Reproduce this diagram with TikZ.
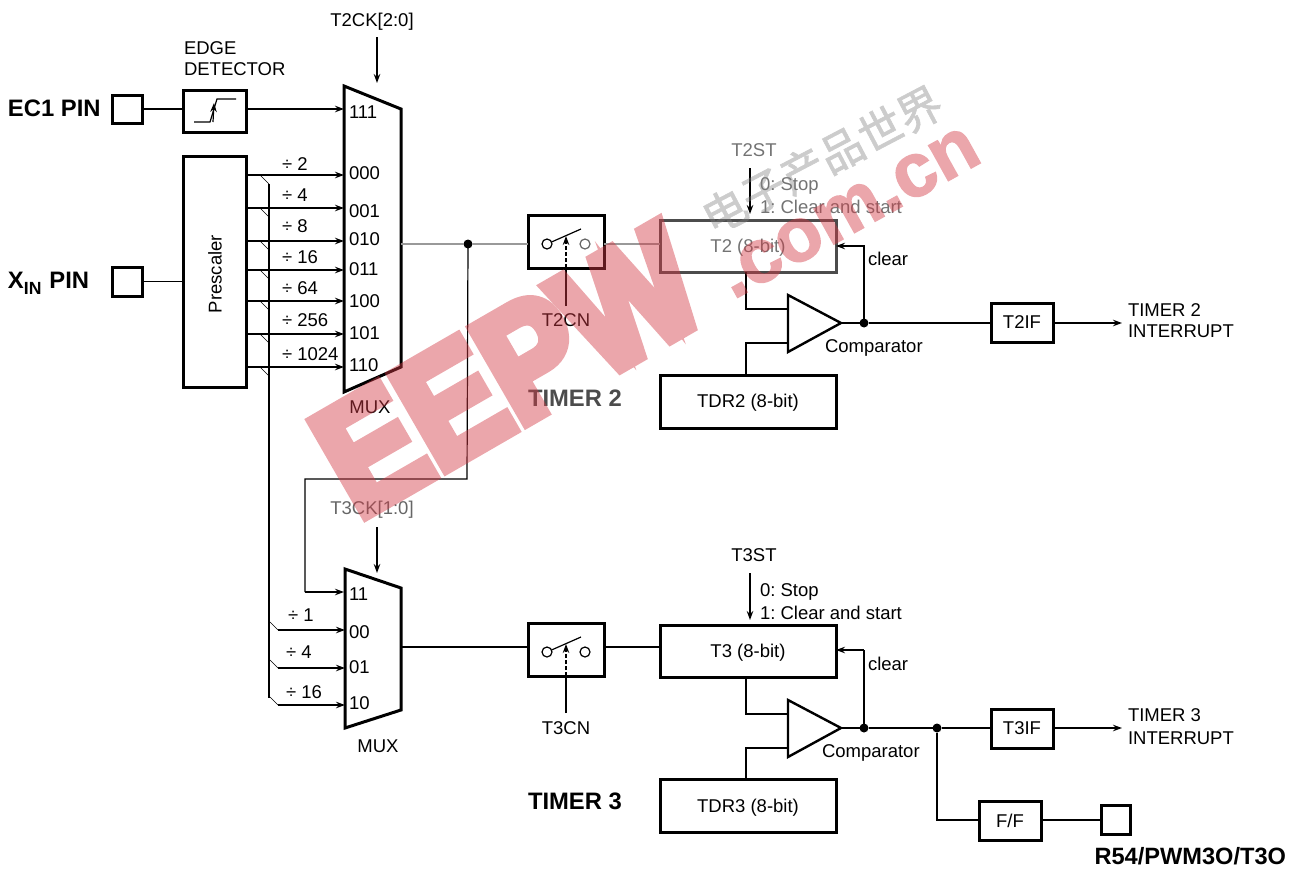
\documentclass[tikz,border=0pt]{standalone}
\usepackage{fontspec}
\setmainfont{Liberation Sans}
\newfontfamily\cjkwm[FakeBold=1.5]{Noto Sans CJK SC}
\newfontfamily\wmfont[FakeBold=7,FakeStretch=.88]{Liberation Sans Bold}
\newfontfamily\wmfontb[FakeBold=2]{Liberation Sans Bold}
\usetikzlibrary{arrows.meta}
\definecolor{wmpink}{RGB}{210,57,68}
\tikzset{
  thin line/.style={line width=1.2pt},
  thick line/.style={line width=3pt},
  arr/.style={thin line,-{Stealth[length=9pt,width=6.5pt]}},
  box/.style={draw,thick line,inner sep=0pt,outer sep=0pt,minimum width=#1},
  txt/.style={inner sep=0pt,outer sep=0pt,font=\fontsize{18.5}{22}\selectfont\frenchspacing},
  ltxt/.style={txt,anchor=west},
  btxt/.style={inner sep=0pt,outer sep=0pt,anchor=west,font=\fontsize{23.8}{26}\selectfont\bfseries},
  dot/.style={circle,fill=black,inner sep=0pt,minimum size=9pt,outer sep=0pt},
  ring/.style={circle,draw,thin line,fill=white,inner sep=0pt,minimum size=10pt,outer sep=0pt},
  soft/.style={text=black!55},
}
\begin{document}
\begin{tikzpicture}[x=1pt,y=-1pt]
\useasboundingbox (0,0) rectangle (1302,870);

% pins and edge detector
\node[box=30pt,minimum height=28pt] (ecpin) at (127,109) {};
\node[box=30pt,minimum height=29pt] (xinpin) at (127,281.5) {};
\node[btxt] (eclabel) at (8,108) {EC1 PIN};
\node[btxt,anchor=base west] (xinlabel) at (8,288) {X\raisebox{-6pt}{\fontsize{17.6}{18}\selectfont\bfseries IN}\hspace{8pt}PIN};
\node[box=63pt,minimum height=42pt] (edge) at (214.5,111) {};
\node[ltxt] (edgea) at (184,48) {EDGE};
\node[ltxt] (edgeb) at (184,69) {DETECTOR};
\coordinate (sa) at (194,122); \coordinate (sb) at (210,122);
\coordinate (sc) at (217,99); \coordinate (sd) at (236,99);
\draw[thin line] (sa) -- (sb) -- (sc) -- (sd);
\coordinate (sup) at (214,103);
\draw[arr] (sb) ++(3,0) -- (sup);
\node[box=63pt,minimum height=231pt] (pre) at (214.5,271.5) {};
\node[txt,rotate=90] (prelabel) at (215,274) {Prescaler};

% MUX 1
\coordinate (ma) at (344,86); \coordinate (mb) at (401,109);
\coordinate (mc) at (401,367); \coordinate (md) at (344,392);
\draw[thick line,line join=miter] (ma) -- (mb) -- (mc) -- (md) -- cycle;
\node[txt] (t2ck) at (372,22) {T2CK[2:0]};
\coordinate (t2cks) at (377,37); \coordinate (t2cke) at (377,83);
\draw[arr] (t2cks) -- (t2cke);
\coordinate (m111) at (344,109);
\draw[thin line] (ecpin.east |- m111) -- (edge.west |- m111);
\draw[arr] (edge.east |- m111) -- (m111);
\draw[thin line] (xinpin) -- (pre.west |- xinpin);
\node[ltxt] (l111) at (349,112) {111};
\foreach \n/\y/\ly/\d/\dy in {000/175/173/2/164,001/208/211/4/195,010/241/239/8/226,011/270/269/16/257,100/301/301/64/288,101/334/333/256/320,110/367/365/1024/354}{
  \coordinate (m\n) at (344,\y);
  \draw[arr] (pre.east |- m\n) -- (m\n);
  \coordinate (ta\n) at (260,\y);
  \coordinate (tb\n) at (269,\y+9);
  \draw[line width=.6pt] (ta\n) -- (tb\n);
  \node[ltxt] (l\n) at (349,\ly) {\n};
  \node[ltxt] (d\n) at (282,\dy) {÷ \d};
}
\node[txt] (mux1) at (370,407) {MUX};
% prescaler bus
\coordinate (busa) at (269,184); \coordinate (busb) at (269,698);
\draw[line width=1.5pt] (busa) -- (busb);

% Timer 2
\node[dot] (j1) at (468,244) {};
\node[box=76pt,minimum height=53pt] (sw2) at (566,241.5) {};
\node[box=176pt,minimum height=52pt,draw=black!70] (t2) at (748,246) {};
\node[txt,soft] (t2label) at (748,248) {T2 (8-bit)};
\coordinate (mo1) at (401,244);
\draw[thin line,black!40] (mo1) -- (j1);
\draw[thin line,black!40] (j1) -- (sw2.west |- j1);
\draw[thin line,black!40] (sw2.east |- j1) -- (t2.west |- j1);
\node[ring] (r2a) at (547,244) {};
\node[ring,draw=black!60] (r2b) at (585,244) {};
\coordinate (bl2) at (581,229);
\draw[thin line] (r2a) -- (bl2);
\node[txt] (t2cn) at (566,320) {T2CN};
\coordinate (cn2s) at (566,306); \coordinate (cn2m) at (566,268); \coordinate (cn2e) at (566,236);
\draw[thin line] (cn2s) -- (cn2m);
\draw[arr,dash pattern=on 4pt off 2pt] (cn2m) -- (cn2e);
\node[txt,soft] (t2st) at (754,150) {T2ST};
\coordinate (st2s) at (750,168); \coordinate (st2e) at (750,214);
\draw[arr] (st2s) -- (st2e);
\node[ltxt,soft] (t2a) at (760,186) {0: Stop};
\node[ltxt,soft] (t2b) at (760,207) {1: Clear and start};
\coordinate (c2a) at (788,295); \coordinate (c2b) at (788,352); \coordinate (c2c) at (841,323);
\draw[line width=2.4pt,line join=miter] (c2a) -- (c2c) -- (c2b) -- cycle;
\node[dot] (j2) at (864,323) {};
\node[box=62pt,minimum height=39pt] (t2if) at (1022,322.5) {};
\node[txt] (t2iflabel) at (t2if) {T2IF};
\node[box=176pt,minimum height=53pt] (tdr2) at (748,401.5) {};
\node[txt] (tdr2label) at (748,403) {TDR2 (8-bit)};
\node[ltxt] (cmp2) at (825,348) {Comparator};
\node[ltxt] (clr2) at (868,259) {clear};
\node[ltxt] (int2a) at (1128,310) {TIMER 2};
\node[ltxt] (int2b) at (1128,331) {INTERRUPT};
\node[btxt,text=black!70] (tm2) at (528,398) {TIMER 2};
\coordinate (ci2a) at (788,309); \coordinate (ci2b) at (788,343);
\coordinate (cl2a) at (746,309); \coordinate (cl2b) at (746,343);
\draw[thin line] (t2.south -| cl2a) -- (cl2a) -- (ci2a);
\draw[thin line] (tdr2.north -| cl2b) -- (cl2b) -- (ci2b);
\draw[thin line] (c2c) -- (j2);
\draw[thin line] (j2) -- (t2if.west |- j2);
\coordinate (o2) at (1122,323);
\draw[arr] (t2if.east |- o2) -- (o2);
\draw[arr] (j2) -- (j2 |- t2.east) -- (t2.east);
% feed to MUX 2
\coordinate (fa) at (305,479); \coordinate (fm) at (467,479); \coordinate (m11) at (344,592);
\draw[thin line] (j1.center) -- (fm) -- (fa) -- (fa |- m11);
\draw[arr] (fa |- m11) -- (m11);

% MUX 2
\coordinate (na) at (345,569); \coordinate (nb) at (401,588);
\coordinate (nc) at (401,710); \coordinate (nd) at (345,728);
\draw[thick line,line join=miter] (na) -- (nb) -- (nc) -- (nd) -- cycle;
\node[txt,text=black!60] (t3ck) at (372,510) {T3CK[1:0]};
\coordinate (t3cks) at (377,527); \coordinate (t3cke) at (377,573);
\draw[arr] (t3cks) -- (t3cke);
\node[ltxt] (l11) at (349,594) {11};
\foreach \n/\y/\ly/\d/\dx/\dy in {00/630/632/1/288/615,01/668/667/4/286/652,10/705/703/16/286/692}{
  \coordinate (n\n) at (345,\y);
  \coordinate (ua\n) at (270,\y-8);
  \coordinate (ub\n) at (278,\y);
  \draw[line width=.6pt] (ua\n) -- (ub\n);
  \draw[arr] (ub\n) -- (n\n);
  \node[ltxt] (k\n) at (349,\ly) {\n};
  \node[ltxt] (e\n) at (\dx,\dy) {÷ \d};
}
\node[txt] (mux2) at (378,746) {MUX};

% Timer 3
\node[box=76pt,minimum height=53pt] (sw3) at (566,649.5) {};
\node[box=176pt,minimum height=52pt] (t3) at (748,651) {};
\node[txt] (t3label) at (748,653) {T3 (8-bit)};
\coordinate (mo2) at (401,647);
\draw[thin line] (mo2) -- (sw3.west |- mo2);
\draw[thin line] (sw3.east |- mo2) -- (t3.west |- mo2);
\node[ring] (r3a) at (547,652) {};
\node[ring] (r3b) at (585,652) {};
\coordinate (bl3) at (581,637);
\draw[thin line] (r3a) -- (bl3);
\node[txt] (t3cn) at (566,728) {T3CN};
\coordinate (cn3s) at (566,713); \coordinate (cn3m) at (566,676); \coordinate (cn3e) at (566,644);
\draw[thin line] (cn3s) -- (cn3m);
\draw[arr,dash pattern=on 4pt off 2pt] (cn3m) -- (cn3e);
\node[txt] (t3st) at (754,555) {T3ST};
\coordinate (st3s) at (750,573); \coordinate (st3e) at (750,620);
\draw[arr] (st3s) -- (st3e);
\node[ltxt] (t3a) at (760,592) {0: Stop};
\node[ltxt] (t3b) at (760,613) {1: Clear and start};
\coordinate (c3a) at (788,700); \coordinate (c3b) at (788,757); \coordinate (c3c) at (841,728);
\draw[line width=2.4pt,line join=miter] (c3a) -- (c3c) -- (c3b) -- cycle;
\node[dot] (j3) at (864,728) {};
\node[dot] (j4) at (937,728) {};
\node[box=62pt,minimum height=39pt] (t3if) at (1022,728.5) {};
\node[txt] (t3iflabel) at (t3if) {T3IF};
\node[box=176pt,minimum height=53pt] (tdr3) at (748,805.5) {};
\node[txt] (tdr3label) at (748,808) {TDR3 (8-bit)};
\node[ltxt] (cmp3) at (822,753) {Comparator};
\node[ltxt] (clr3) at (868,664) {clear};
\node[ltxt] (int3a) at (1128,715) {TIMER 3};
\node[ltxt] (int3b) at (1128,738) {INTERRUPT};
\node[btxt] (tm3) at (528,801) {TIMER 3};
\coordinate (ci3a) at (788,714); \coordinate (ci3b) at (788,748);
\coordinate (cl3a) at (746,714); \coordinate (cl3b) at (746,748);
\draw[thin line] (t3.south -| cl3a) -- (cl3a) -- (ci3a);
\draw[thin line] (tdr3.north -| cl3b) -- (cl3b) -- (ci3b);
\draw[thin line] (c3c) -- (j3);
\draw[thin line] (j3) -- (j4);
\draw[thin line] (j4) -- (t3if.west |- j4);
\coordinate (o3) at (1122,728);
\draw[arr] (t3if.east |- o3) -- (o3);
\coordinate (cu3) at (864,650);
\draw[thin line] (j3) -- (cu3);
\draw[arr] (cu3) -- (t3.east |- cu3);
\node[box=62pt,minimum height=39pt] (ff) at (1010,820.5) {};
\node[txt] (fflabel) at (ff) {F/F};
\node[box=29pt,minimum height=29pt] (pin3) at (1115.5,819.5) {};
\node[btxt,anchor=east,font=\fontsize{23.6}{24}\selectfont\bfseries] (pin3l) at (1286,856) {R54/PWM3O/T3O};
\coordinate (ffc) at (937,820);
\draw[thin line] (j4) -- (ffc) -- (ff.west |- ffc);
\draw[thin line] (ff.east |- ffc) -- (pin3.west |- ffc);

% watermark
\begin{scope}[transparency group,opacity=.45]
\node[inner sep=0pt,anchor=base west,rotate=30,text=wmpink,font=\fontsize{158}{158}\wmfont] (wm1) at (358,520) {EEPW};
\node[inner sep=0pt,anchor=base west,rotate=29,text=wmpink,font=\fontsize{76}{76}\wmfontb] (wm2) at (733,300) {.com.cn};
\end{scope}
\begin{scope}[transparency group,opacity=.4]
\node[inner sep=0pt,rotate=27.7,text=black!50,font=\fontsize{44}{44}\cjkwm] (wm3) at (822,160) {电子产品世界};
\end{scope}
\end{tikzpicture}
\end{document}
